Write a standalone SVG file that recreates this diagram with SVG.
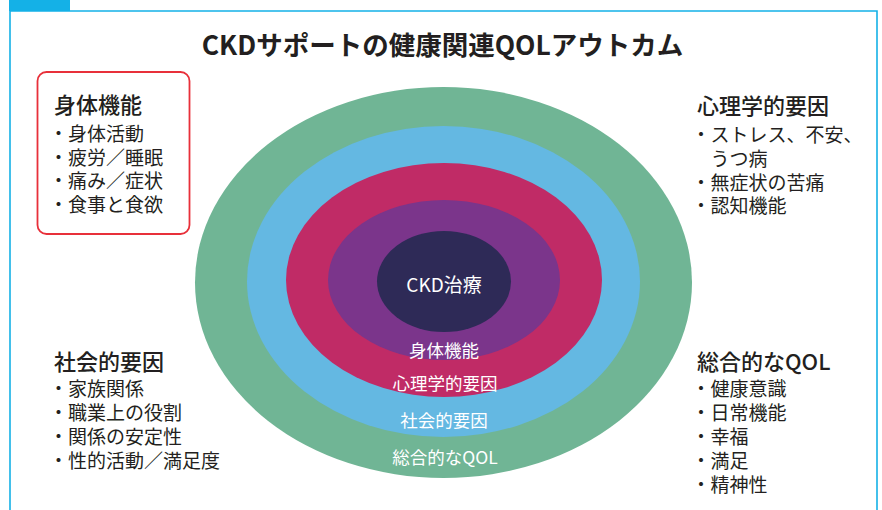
<svg xmlns="http://www.w3.org/2000/svg" width="882" height="510" viewBox="0 0 882 510">
<style>
text{font-family:"Noto Sans CJK JP","Noto Sans",sans-serif;fill:#231f20}
.title{font-size:26.5px;font-weight:bold}
.head{font-size:22px;font-weight:500}
.item{font-size:19px;font-weight:normal}
.ring{font-size:17.5px;fill:#fff;text-anchor:middle}
.core{font-size:19px;fill:#fff;text-anchor:middle}
.frame{fill:none;stroke:#14b1e7;stroke-width:1.6}
</style>
<rect width="882" height="510" fill="#fff"/>
<g id="frame">
<rect x="9" y="0" width="61" height="11" fill="#14b1e7"/>
<path class="frame" d="M10,512 V11 H877 V512"/>
</g>
<text class="title" x="442.5" y="55" text-anchor="middle">CKDサポートの健康関連QOLアウトカム</text>
<g id="rings">
<ellipse id="ring-qol" cx="443.5" cy="282.5" rx="248.5" ry="195.5" fill="#70b595"/>
<ellipse id="ring-social" cx="443.5" cy="281.5" rx="196.5" ry="155.5" fill="#64b8e2"/>
<ellipse id="ring-psych" cx="444" cy="280" rx="158" ry="117" fill="#c02b66"/>
<ellipse id="ring-physical" cx="444" cy="280" rx="116" ry="80" fill="#7b358b"/>
<ellipse id="ring-core" cx="444" cy="281.5" rx="67" ry="50.5" fill="#2e2a57"/>
<text class="core" x="444" y="292">CKD治療</text>
<text class="ring" x="444" y="356.5">身体機能</text>
<text class="ring" x="445" y="389.5">心理学的要因</text>
<text class="ring" x="444" y="426.5">社会的要因</text>
<text class="ring" x="445" y="463.5">総合的なQOL</text>
</g>
<g id="connectors"></g>
<g id="node-physical">
<rect x="37.5" y="72" width="152" height="162" rx="9" fill="none" stroke="#e8303a" stroke-width="1.8"/>
<text class="head"><tspan x="54" y="113">身体機能</tspan><tspan class="item" x="49" y="141">・身体活動</tspan><tspan class="item" x="49" y="164.5">・疲労／睡眠</tspan><tspan class="item" x="49" y="188">・痛み／症状</tspan><tspan class="item" x="49" y="211.5">・食事と食欲</tspan></text>
</g>
<g id="node-psych">
<text class="head"><tspan x="697" y="113.5">心理学的要因</tspan><tspan class="item" x="691.5" y="141.5">・ストレス、不安、</tspan><tspan class="item" x="710.5" y="165.5">うつ病</tspan><tspan class="item" x="691.5" y="189.5">・無症状の苦痛</tspan><tspan class="item" x="691.5" y="212.5">・認知機能</tspan></text>
</g>
<g id="node-social">
<text class="head"><tspan x="54" y="369.5">社会的要因</tspan><tspan class="item" x="49" y="396">・家族関係</tspan><tspan class="item" x="49" y="420">・職業上の役割</tspan><tspan class="item" x="49" y="444">・関係の安定性</tspan><tspan class="item" x="49" y="468">・性的活動／満足度</tspan></text>
</g>
<g id="node-qol">
<text class="head"><tspan x="697" y="370">総合的なQOL</tspan><tspan class="item" x="691.5" y="396">・健康意識</tspan><tspan class="item" x="691.5" y="419.5">・日常機能</tspan><tspan class="item" x="691.5" y="443.5">・幸福</tspan><tspan class="item" x="691.5" y="467.5">・満足</tspan><tspan class="item" x="691.5" y="492">・精神性</tspan></text>
</g>
</svg>
